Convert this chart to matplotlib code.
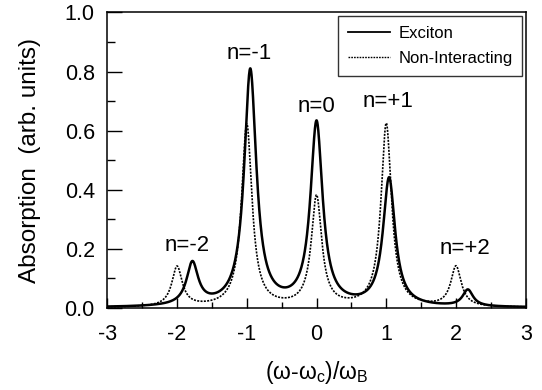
import numpy as np
import matplotlib
matplotlib.use('Agg')
import matplotlib.pyplot as plt
from matplotlib.ticker import MultipleLocator

plt.rcParams['font.family'] = ['Liberation Sans', 'DejaVu Sans']
plt.rcParams['mathtext.fontset'] = 'custom'
plt.rcParams['mathtext.rm'] = 'Liberation Sans'
plt.rcParams['mathtext.it'] = 'Liberation Sans'
plt.rcParams['axes.unicode_minus'] = False

# Peak parameters (Lorentzian lines)
exciton_centers = [-1.78, -0.95, 0.0, 1.04, 2.17]
exciton_heights = [0.143, 0.80, 0.62, 0.433, 0.056]
exciton_widths = [0.1, 0.105, 0.105, 0.105, 0.09]

free_centers = [-2.0, -1.0, 0.0, 1.0, 2.0]
free_heights = [0.135, 0.618, 0.372, 0.62, 0.136]
free_widths = [0.09, 0.09, 0.09, 0.09, 0.09]

peak_labels = ['n=-2', 'n=-1', 'n=0', 'n=+1', 'n=+2']
label_x = [-1.86, -0.97, 0.0, 1.02, 2.13]
label_y = [0.21, 0.86, 0.68, 0.70, 0.20]

x = np.linspace(-3, 3, 2000)


def spectrum(centers, heights, widths):
    y = np.zeros_like(x)
    for c, h, g in zip(centers, heights, widths):
        y += h * g**2 / ((x - c)**2 + g**2)
    return y


fig, ax = plt.subplots(figsize=(5.42, 3.9), dpi=100)
fig.subplots_adjust(left=0.198, right=0.97, top=0.968, bottom=0.211)

ax.plot(x, spectrum(exciton_centers, exciton_heights, exciton_widths),
        color='black', lw=1.8, label='Exciton')
ax.plot(x, spectrum(free_centers, free_heights, free_widths),
        color='black', lw=1.2, ls=(0, (1.2, 0.8)), label='Non-Interacting')

for lab, lx, ly in zip(peak_labels, label_x, label_y):
    ax.text(lx, ly, lab, ha='center', va='center', fontsize=16)

ax.set_xlim(-3, 3)
ax.set_ylim(0, 1.0)
ax.xaxis.set_major_locator(MultipleLocator(1))
ax.xaxis.set_minor_locator(MultipleLocator(0.5))
ax.yaxis.set_major_locator(MultipleLocator(0.2))
ax.yaxis.set_minor_locator(MultipleLocator(0.1))
ax.tick_params(which='both', direction='in', top=False, right=False,
               labelsize=15.5, width=1)
ax.tick_params(axis='y', which='major', length=11, pad=9)
ax.tick_params(axis='y', which='minor', length=6)
ax.tick_params(axis='x', which='major', length=7, pad=12)
ax.tick_params(axis='x', which='minor', length=4)
ax.yaxis.set_major_formatter(plt.FuncFormatter(lambda v, p: f'{v:.1f}'))
for s in ax.spines.values():
    s.set_linewidth(1.1)

ax.set_ylabel('Absorption  (arb. units)', fontsize=17.5, labelpad=17)
ax.set_xlabel('(ω-ω$_{\\rm c}$)/ω$_{\\rm B}$', fontsize=16.5, labelpad=10)

leg = ax.legend(loc='upper right', fontsize=12, frameon=True, fancybox=False,
                edgecolor='black', handlelength=2.5, borderaxespad=0.2,
                handletextpad=0.5, labelspacing=0.6, borderpad=0.6)
leg.get_frame().set_linewidth(1.0)
leg.get_lines()[0].set_linewidth(1.3)
leg.get_lines()[1].set_linewidth(1.0)

plt.savefig('out.png', dpi=100)
